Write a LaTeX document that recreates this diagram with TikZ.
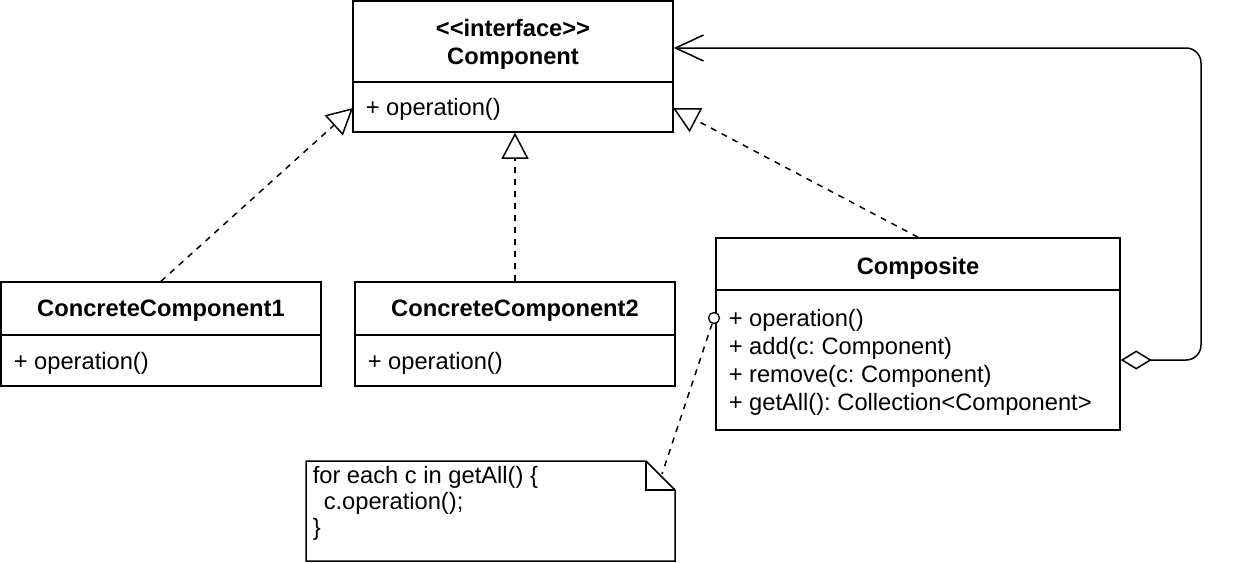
\documentclass[tikz,border=0pt]{standalone}
\usepackage{fontspec}
\setmainfont{Liberation Sans}[Ligatures=TeXOff]
\usetikzlibrary{arrows.meta,positioning}

\begin{document}
\frenchspacing
\begin{tikzpicture}[x=1pt,y=-1pt,line width=1.5pt,
    font=\fontsize{23.7}{28}\selectfont,
    classbox/.style={draw,inner sep=0pt},
    title/.style={inner sep=0pt,align=center,font=\fontsize{23.7}{28}\selectfont\bfseries},
    member/.style={inner sep=0pt,anchor=west},
    realize/.style={dash pattern=on 6pt off 6pt,-{Triangle[open,length=26pt,width=27pt]}}]
    \useasboundingbox (0,0) rectangle (1236,562);

    % Interfaz
    \node[classbox,minimum width=320pt,minimum height=131pt] (comp) at (513,66.5) {};
    \draw (comp.west |- 0,82) -- (comp.east |- 0,82);
    \node[title] (compname) at (513,44) {<<interface>>\\Component};
    \node[member] (compop) at (365,109) {+ operation()};

    % Clases concretas
    \node[classbox,minimum width=320pt,minimum height=104pt] (cc1) at (161,334) {};
    \draw (cc1.west |- 0,335) -- (cc1.east |- 0,335);
    \node[title] (cc1name) at (161,311) {ConcreteComponent1};
    \node[member] (cc1op) at (13,363) {+ operation()};

    \node[classbox,minimum width=320pt,minimum height=104pt] (cc2) at (515,334) {};
    \draw (cc2.west |- 0,335) -- (cc2.east |- 0,335);
    \node[title] (cc2name) at (515,311) {ConcreteComponent2};
    \node[member] (cc2op) at (367,363) {+ operation()};

    % Compuesto
    \node[classbox,minimum width=404pt,minimum height=192pt] (composite) at (918,334) {};
    \draw (composite.west |- 0,290) -- (composite.east |- 0,290);
    \node[title] (compositename) at (918,268) {Composite};
    \node[member] (opcomp) at (728,320) {+ operation()};
    \node[member] (addcomp) at (728,348) {+ add(c: Component)};
    \node[member] (removecomp) at (728,376) {+ remove(c: Component)};
    \node[member] (getcomp) at (728,404) {+ getAll(): Collection<Component>};

    % Nota
    \draw (306,461) -- (646,461) -- (675,490) -- (675,561) -- (306,561) -- cycle;
    \draw (646,461) -- (646,490) -- (675,490);
    \node[member,align=left,anchor=north west,font=\fontsize{23.7}{26}\selectfont] (notetext) at (312,466)
        {for each c in getAll() \{\\\hspace*{11pt}c.operation();\\\}};
    \coordinate (notecorner) at (662,474);

    % Realizaciones
    \coordinate (compL) at (353,108);
    \coordinate (compR) at (673,108);
    \draw[realize] (cc1.north) -- (compL);
    \draw[realize] (cc2.north) -- (cc2.north |- comp.south);
    \draw[realize] (composite.north) -- (compR);

    % Agregacion
    \coordinate (aggcorner1) at (1201,360);
    \coordinate (aggcorner2) at (1201,48);
    \draw[rounded corners=15pt,{Diamond[open,length=31pt,width=19pt]}-{Straight Barb[length=28pt,width=26pt]}]
        (composite.east |- aggcorner1) -- (aggcorner1) -- (aggcorner2) -- (comp.east |- aggcorner2);

    % Enlace de la nota
    \node[circle,draw,fill=white,minimum size=11pt,inner sep=0pt,line width=1.3pt] (opmark) at (714,318) {};
    \draw[dash pattern=on 6pt off 6pt] (opmark) -- (notecorner);
\end{tikzpicture}
\end{document}
